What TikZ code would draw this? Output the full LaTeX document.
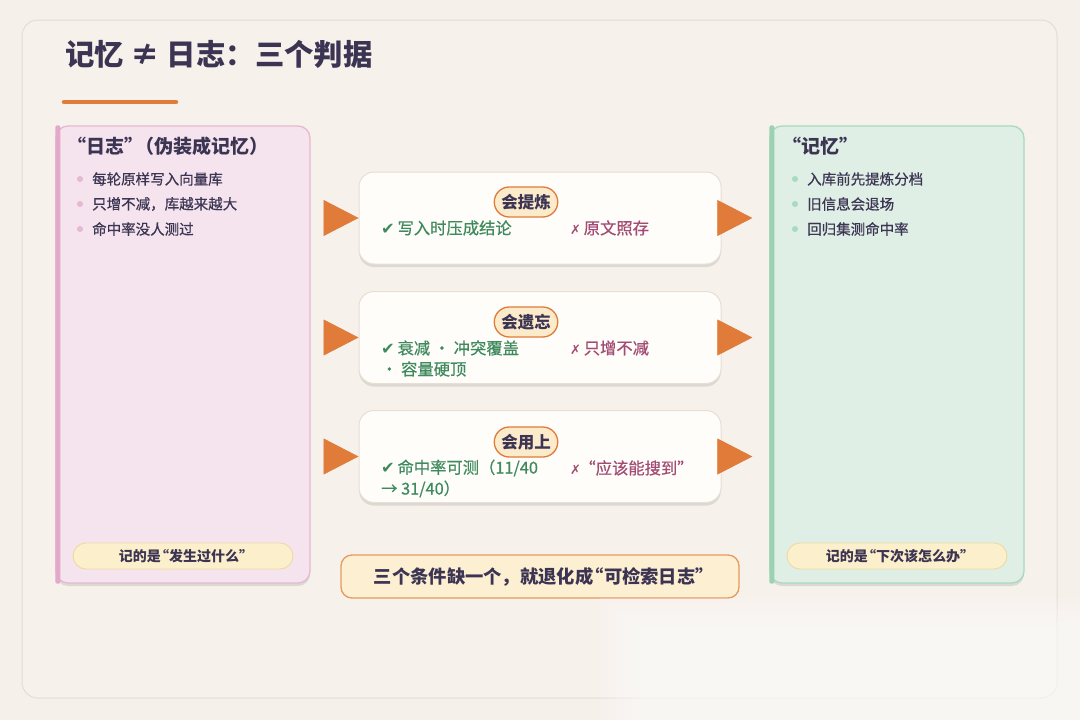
\documentclass[tikz,border=0pt]{standalone}
\usepackage{fontspec}
\setmainfont{Noto Sans CJK SC}
\newfontfamily\sym{DejaVu Sans}
\newfontfamily\med[FakeBold=0.6]{Noto Sans CJK SC}
\newcommand{\oq}{\kern-0.42em“}
\newcommand{\cq}{”\kern-0.42em}
\usetikzlibrary{shadows,arrows.meta,calc}
\definecolor{bg}{HTML}{F5F0EA}
\definecolor{bgin}{HTML}{F6F1EB}
\definecolor{framec}{HTML}{E6DDD3}
\definecolor{ink}{HTML}{3B3452}
\definecolor{accent}{HTML}{E07B39}
\definecolor{pinkfill}{HTML}{F5E4EE}
\definecolor{pinkborder}{HTML}{E6B8D1}
\definecolor{pinkstrip}{HTML}{E2A9C8}
\definecolor{greenfill}{HTML}{DFEFE5}
\definecolor{greenborder}{HTML}{A9D9BE}
\definecolor{greenstrip}{HTML}{9CD2B3}
\definecolor{pillfill}{HTML}{FCEFCB}
\definecolor{pillborder}{HTML}{EFD9A2}
\definecolor{cardfill}{HTML}{FFFDF9}
\definecolor{cardborder}{HTML}{E9DED2}
\definecolor{badgefill}{HTML}{FCEBCB}
\definecolor{okc}{HTML}{3E8A5E}
\definecolor{noc}{HTML}{A24B74}
\definecolor{notefill}{HTML}{FDEFD2}
\definecolor{noteborder}{HTML}{E69A5E}
\tikzset{
  txt/.style={inner sep=0pt, text=ink},
  panel/.style={rounded corners=12pt, line width=1.3pt, minimum width=254pt, minimum height=457pt,
    drop shadow={shadow xshift=0pt, shadow yshift=-3pt, opacity=0.10, fill=black}},
  pill/.style={rounded corners=13pt, line width=0.9pt, fill=pillfill, draw=pillborder,
    minimum width=220pt, minimum height=26pt, inner sep=0pt, text=ink,
    font=\bfseries\fontsize{14}{16}\selectfont},
  card/.style={rounded corners=15pt, line width=1pt, fill=cardfill, draw=cardborder,
    minimum width=362pt, minimum height=92pt,
    drop shadow={shadow xshift=0pt, shadow yshift=-3pt, opacity=0.10, fill=black}},
  badge/.style={rounded corners=15pt, line width=1.3pt, fill=badgefill, draw=accent,
    inner xsep=7pt, inner ysep=0pt, minimum height=30pt, text=ink,
    font=\bfseries\fontsize{16.5}{18}\selectfont},
  ok/.style={inner sep=0pt, anchor=west, text=okc, font=\med\fontsize{16.3}{18}\selectfont},
  no/.style={inner sep=0pt, anchor=west, text=noc, font=\med\fontsize{16.3}{18}\selectfont},
  bul/.style={inner sep=0pt, anchor=west, text=ink, font=\med\fontsize{14.5}{17}\selectfont},
  ptitle/.style={inner sep=0pt, anchor=west, text=ink, font=\bfseries\fontsize{19}{22}\selectfont},
  bigarr/.style={draw=accent, line width=0.6pt, -{Triangle[length=35pt,width=36pt,fill=accent]}},
  note/.style={rounded corners=11pt, line width=1.3pt, fill=notefill, draw=noteborder,
    minimum width=398pt, minimum height=43pt, text=ink, font=\bfseries\fontsize{18.3}{20}\selectfont}
}
\begin{document}
\begin{tikzpicture}[x=1pt,y=-1pt]
\fill[bg] (0,0) rectangle (1080,720);
\useasboundingbox (0,0) rectangle (1080,720);
\draw[framec, fill=bgin, line width=1pt, rounded corners=16pt] (22,20) rectangle (1057,698);

% title
\node[txt, anchor=west, font=\bfseries\fontsize{29.4}{32}\selectfont] (title) at (65,54) {记忆 ≠ 日志：三个判据};
\draw[accent, line width=4.5pt, line cap=round] (64,102) -- (176,102);

% left panel
\node[panel, fill=pinkfill, draw=pinkborder] (L) at (183,354.5) {};
\fill[pinkstrip, rounded corners=2pt] (L.north west) rectangle ($(L.south west)+(5,0)$);
\node[ptitle] (Lt) at (75,146) {\oq 日志\cq （伪装成记忆）};
\foreach \yy/\t [count=\i] in {179/每轮原样写入向量库, 204/只增不减，库越来越大, 229/命中率没人测过}{
  \fill[pinkborder] (80,\yy) circle (3pt);
  \node[bul] (Lb\i) at (92,\yy) {\t};
}
\node[pill] (Lp) at (183,556) {记的是\oq 发生过什么\cq};

% right panel
\node[panel, fill=greenfill, draw=greenborder] (R) at (897,354.5) {};
\fill[greenstrip, rounded corners=2pt] (R.north west) rectangle ($(R.south west)+(5,0)$);
\node[ptitle] (Rt) at (790,146) {\oq 记忆\cq};
\foreach \yy/\t [count=\i] in {179/入库前先提炼分档, 204/旧信息会退场, 229/回归集测命中率}{
  \fill[greenborder] (795,\yy) circle (3pt);
  \node[bul] (Rb\i) at (807,\yy) {\t};
}
\node[pill] (Rp) at (897,556) {记的是\oq 下次该怎么办\cq};

% cards
\node[card] (c1) at (540,218) {};
\node[card] (c2) at (540,337.5) {};
\node[card] (c3) at (540,456.5) {};

\node[badge] (b1) at (526,202) {会提炼};
\node[ok] (k1) at (381,228) {{\sym ✔}\,写入时压成结论};
\node[no] (n1) at (570,228) {{\sym\fontsize{13}{15}\selectfont ✗}\,原文照存};

\node[badge] (b2) at (526,322) {会遗忘};
\node[ok] (k2) at (381,348) {{\sym ✔}\,衰减 · 冲突覆盖};
\node[ok] (k2b) at (381,369) {· 容量硬顶};
\node[no] (n2) at (570,348) {{\sym\fontsize{13}{15}\selectfont ✗}\,只增不减};

\node[badge] (b3) at (526,442) {会用上};
\node[ok] (k3) at (381,468) {{\sym ✔}\,命中率可测（11/40};
\node[ok] (k3b) at (381,489) {→ 31/40）};
\node[no] (n3) at (570,468) {{\sym\fontsize{13}{15}\selectfont ✗}\kern-0.1em“应该能搜到\cq};

% arrows
\foreach \c in {c1,c2,c3}{
  \draw[bigarr] ($(L.east |- \c.west)+(13,0)$) -- (\c.west);
  \draw[bigarr] ($(\c.east)+(-4,0)$) -- ($(R.west |- \c.east)+(-17,0)$);
}

% note
\node[note] (nt) at (540,576.5) {三个条件缺一个，就退化成\oq 可检索日志\cq};

% soft light patch bottom right
\foreach \i in {0,...,5}{
  \fill[white, opacity=0.13] ({600+\i*8},{598+\i*6}) rectangle (1080,720);
}
\end{tikzpicture}
\end{document}
